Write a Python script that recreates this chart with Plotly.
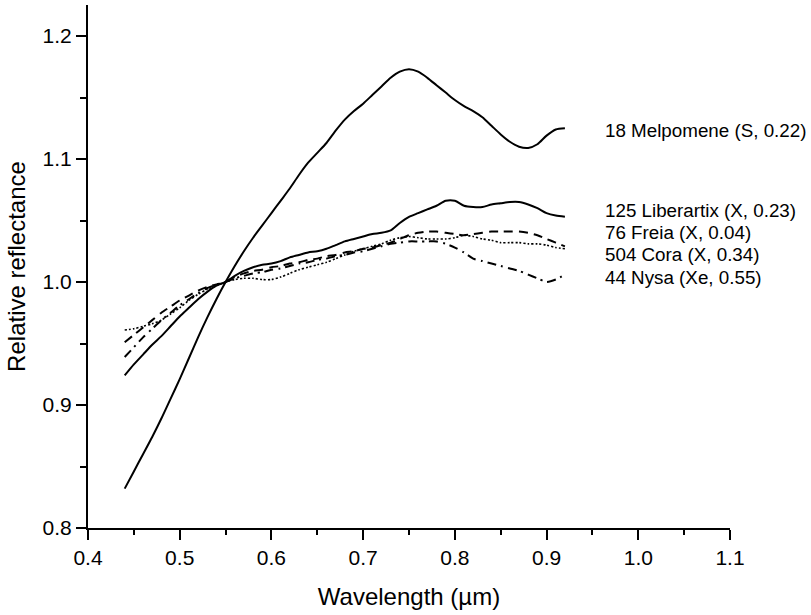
import plotly.graph_objects as go

wavelength = [0.44, 0.45, 0.46, 0.47, 0.48, 0.49, 0.50, 0.51, 0.52, 0.53, 0.54, 0.55,
              0.56, 0.57, 0.58, 0.59, 0.60, 0.61, 0.62, 0.63, 0.64, 0.65, 0.66, 0.67,
              0.68, 0.69, 0.70, 0.71, 0.72, 0.73, 0.74, 0.75, 0.76, 0.77, 0.78, 0.79,
              0.80, 0.81, 0.82, 0.83, 0.84, 0.85, 0.86, 0.87, 0.88, 0.89, 0.90, 0.91, 0.92]

melpomene = [0.832, 0.846, 0.860, 0.874, 0.889, 0.905, 0.921, 0.938, 0.955, 0.971, 0.986, 1.000,
             1.013, 1.025, 1.036, 1.046, 1.056, 1.066, 1.076, 1.087, 1.097, 1.105, 1.113, 1.123,
             1.132, 1.139, 1.145, 1.152, 1.159, 1.166, 1.171, 1.173, 1.171, 1.166, 1.160, 1.154,
             1.148, 1.143, 1.139, 1.134, 1.127, 1.120, 1.114, 1.110, 1.109, 1.112, 1.119, 1.124, 1.125]

liberatrix = [0.924, 0.933, 0.941, 0.949, 0.956, 0.964, 0.972, 0.979, 0.986, 0.992, 0.997, 1.000,
              1.005, 1.009, 1.012, 1.014, 1.015, 1.017, 1.020, 1.022, 1.024, 1.025, 1.027, 1.030,
              1.033, 1.035, 1.037, 1.039, 1.040, 1.042, 1.048, 1.053, 1.056, 1.059, 1.062, 1.066,
              1.066, 1.062, 1.061, 1.061, 1.063, 1.064, 1.065, 1.065, 1.063, 1.060, 1.056, 1.054, 1.053]

freia = [0.951, 0.957, 0.963, 0.969, 0.975, 0.980, 0.985, 0.989, 0.993, 0.996, 0.998, 1.000,
         1.004, 1.007, 1.009, 1.010, 1.012, 1.013, 1.015, 1.016, 1.018, 1.019, 1.021, 1.022,
         1.024, 1.025, 1.027, 1.028, 1.030, 1.032, 1.035, 1.038, 1.040, 1.041, 1.041, 1.040,
         1.039, 1.038, 1.039, 1.040, 1.041, 1.041, 1.041, 1.041, 1.040, 1.038, 1.035, 1.032, 1.029]

cora = [0.961, 0.962, 0.964, 0.966, 0.969, 0.974, 0.979, 0.985, 0.990, 0.994, 0.997, 1.000,
        1.002, 1.003, 1.003, 1.002, 1.002, 1.004, 1.007, 1.010, 1.012, 1.014, 1.016, 1.019,
        1.022, 1.025, 1.027, 1.029, 1.031, 1.034, 1.036, 1.037, 1.036, 1.035, 1.035, 1.035,
        1.036, 1.038, 1.037, 1.035, 1.034, 1.032, 1.032, 1.032, 1.031, 1.031, 1.030, 1.028, 1.027]

nysa = [0.939, 0.947, 0.955, 0.962, 0.969, 0.975, 0.981, 0.986, 0.991, 0.995, 0.998, 1.000,
        1.003, 1.005, 1.007, 1.008, 1.010, 1.011, 1.013, 1.015, 1.016, 1.018, 1.019, 1.021,
        1.022, 1.024, 1.025, 1.027, 1.029, 1.031, 1.032, 1.033, 1.033, 1.033, 1.033, 1.031,
        1.028, 1.024, 1.019, 1.017, 1.015, 1.013, 1.011, 1.009, 1.006, 1.003, 1.000, 1.002, 1.006]

labels = ["18 Melpomene (S, 0.22)", "125 Liberartix (X, 0.23)", "76 Freia (X, 0.04)",
          "504 Cora (X, 0.34)", "44 Nysa (Xe, 0.55)"]
label_y = [1.123, 1.0585, 1.040, 1.0225, 1.004]

series = [
    (melpomene, dict(color="black", width=2, dash="solid")),
    (liberatrix, dict(color="black", width=2, dash="solid")),
    (freia, dict(color="black", width=2, dash="9px,6px")),
    (cora, dict(color="black", width=1.6, dash="2px,2px")),
    (nysa, dict(color="black", width=2, dash="9px,5px,2px,5px")),
]

fig = go.Figure()
for ys, line in series:
    line = dict(line, shape="spline", smoothing=0.7)
    fig.add_trace(go.Scatter(x=wavelength, y=ys, mode="lines", line=line,
                             showlegend=False, hoverinfo="skip"))

for txt, yv in zip(labels, label_y):
    fig.add_annotation(x=0.962, y=yv, xref="x", yref="y", text=txt, showarrow=False,
                       xanchor="left", yanchor="middle",
                       font=dict(family="Liberation Sans, Arial", size=18.8, color="black"))

fig.update_layout(
    width=811, height=615,
    margin=dict(l=88, r=81, t=5, b=87),
    paper_bgcolor="white", plot_bgcolor="white",
    font=dict(family="Liberation Sans, Arial", size=21, color="black"),
    xaxis=dict(range=[0.4, 1.1], tickmode="linear", tick0=0.4, dtick=0.1, tickformat=".1f",
               ticks="outside", ticklen=10, tickwidth=2, tickcolor="black",
               minor=dict(tickmode="linear", tick0=0.45, dtick=0.1, ticks="outside", ticklen=5,
                          tickwidth=2, tickcolor="black", showgrid=False),
               showline=True, linecolor="black", linewidth=2, showgrid=False, zeroline=False,
               tickfont=dict(size=21),
               title=dict(text="Wavelength (\u00b5m)", font=dict(size=24), standoff=20)),
    yaxis=dict(range=[0.8, 1.2252], tickmode="linear", tick0=0.8, dtick=0.1, tickformat=".1f",
               ticks="outside", ticklen=10, tickwidth=2, tickcolor="black",
               minor=dict(tickmode="linear", tick0=0.85, dtick=0.1, ticks="outside", ticklen=6,
                          tickwidth=2, tickcolor="black", showgrid=False),
               showline=True, linecolor="black", linewidth=2, showgrid=False, zeroline=False,
               tickfont=dict(size=21),
               title=dict(text="Relative reflectance", font=dict(size=24), standoff=10)),
)

fig.write_html("out.html")
